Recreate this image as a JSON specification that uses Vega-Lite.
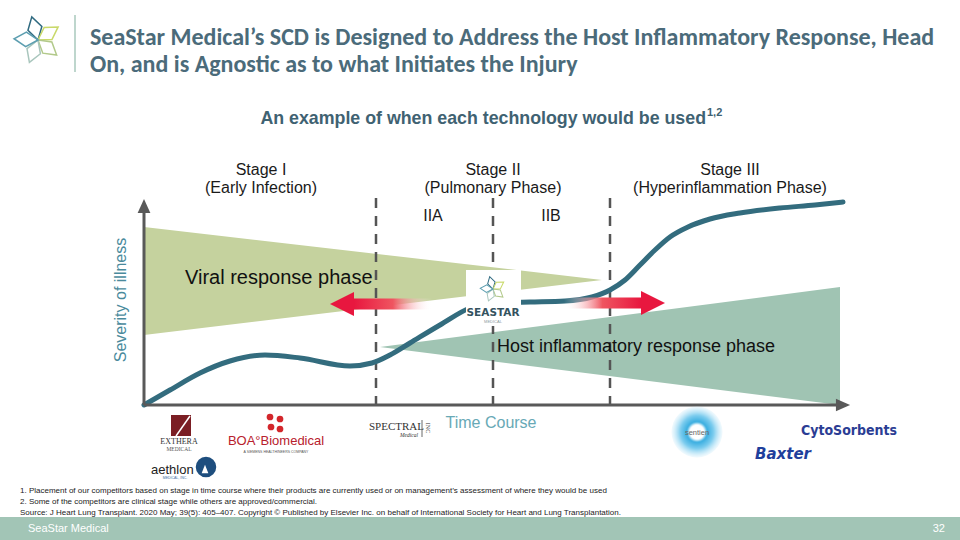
{
  "$schema": "https://vega.github.io/schema/vega-lite/v6.json",
  "width": 960,
  "height": 540,
  "autosize": {"type": "none"},
  "padding": 0,
  "background": "#ffffff",
  "config": {"view": {"stroke": null}, "font": "Liberation Sans"},
  "encoding": {
    "x": {"field": "x", "type": "quantitative", "scale": {"domain": [0, 960], "nice": false, "zero": false}, "axis": null},
    "y": {"field": "y", "type": "quantitative", "scale": {"domain": [0, 540], "nice": false, "zero": false, "reverse": true}, "axis": null}
  },
  "layer": [
    {"data": {"values": [{"x": 0, "x2": 960, "y": 517, "y2": 540}]},
     "mark": {"type": "rect", "color": "#a2c5b6"},
     "encoding": {"x2": {"field": "x2"}, "y2": {"field": "y2"}}},
    {"data": {"values": [{"x": 75, "y": 15, "y2": 72}]},
     "mark": {"type": "rule", "color": "#a8c8bc", "strokeWidth": 1.5},
     "encoding": {"y2": {"field": "y2"}}},
    {"data": {"values": [{"x": 38, "y": 40, "a": -15, "p": "top"}, {"x": 38, "y": 40, "a": 57, "p": "ur"}, {"x": 38, "y": 40, "a": 129, "p": "lr"}, {"x": 38, "y": 40, "a": 201, "p": "bot"}, {"x": 38, "y": 40, "a": 273, "p": "left"}]},
     "mark": {"type": "point", "shape": "M0,0L-0.3,-0.5L0,-1L0.3,-0.5Z", "filled": false, "strokeWidth": 1.5, "size": 2300, "opacity": 1},
     "encoding": {"angle": {"field": "a", "type": "quantitative", "scale": null},
       "color": {"field": "p", "type": "nominal", "legend": null, "scale": {"domain": ["top", "ur", "lr", "bot", "left"], "range": ["#2f6a80", "#c9d96a", "#b2c98a", "#a9c6bd", "#5c9eb0"]}}}},
    {"data": {"values": [{"t": "SeaStar Medical\u2019s SCD is Designed to Address the Host Inflammatory Response, Head", "x": 90, "y": 45}, {"t": "On, and is Agnostic as to what Initiates the Injury", "x": 90, "y": 72}]},
     "mark": {"type": "text", "font": "Carlito, Lato", "fontWeight": "bold", "fontSize": 24, "color": "#4b6b7a", "align": "left", "baseline": "alphabetic"},
     "encoding": {"text": {"field": "t"}}},
    {"data": {"values": [{"t": "An example of when each technology would be used", "x": 706, "y": 124}]},
     "mark": {"type": "text", "fontWeight": "bold", "fontSize": 17.8, "color": "#3f6272", "align": "right", "baseline": "alphabetic"},
     "encoding": {"text": {"field": "t"}}},
    {"data": {"values": [{"t": "1,2", "x": 707, "y": 116}]},
     "mark": {"type": "text", "fontWeight": "bold", "fontSize": 11, "color": "#3f6272", "align": "left", "baseline": "alphabetic"},
     "encoding": {"text": {"field": "t"}}},
    {"data": {"values": [{"t": "Stage I", "x": 261, "y": 170}, {"t": "(Early Infection)", "x": 261, "y": 188}, {"t": "Stage II", "x": 493, "y": 170}, {"t": "(Pulmonary Phase)", "x": 493, "y": 188}, {"t": "Stage III", "x": 730, "y": 170}, {"t": "(Hyperinflammation Phase)", "x": 730, "y": 188}, {"t": "IIA", "x": 433, "y": 216}, {"t": "IIB", "x": 551, "y": 216}]},
     "mark": {"type": "text", "fontSize": 16, "color": "#1a1a1a", "align": "center", "baseline": "middle"},
     "encoding": {"text": {"field": "t"}}},
    {"data": {"values": [{"x": 144, "y": 227, "y2": 335}, {"x": 602, "y": 280, "y2": 280}]},
     "mark": {"type": "area", "color": "#c5d29e", "opacity": 1, "orient": "vertical"},
     "encoding": {"y": {"field": "y", "type": "quantitative", "stack": null}, "y2": {"field": "y2"}}},
    {"data": {"values": [{"x": 380, "y": 347, "y2": 347}, {"x": 840, "y": 287, "y2": 405}]},
     "mark": {"type": "area", "color": "#a0c4b3", "opacity": 1, "orient": "vertical"},
     "encoding": {"y": {"field": "y", "type": "quantitative", "stack": null}, "y2": {"field": "y2"}}},
    {"data": {"values": [{"x": 376, "y": 198, "y2": 405}, {"x": 493, "y": 198, "y2": 405}, {"x": 610, "y": 198, "y2": 405}]},
     "mark": {"type": "rule", "color": "#555555", "strokeWidth": 2.5, "strokeDash": [10, 8]},
     "encoding": {"y2": {"field": "y2"}}},
    {"data": {"values": [
       {"x": 144, "y": 405}, {"x": 170, "y": 390}, {"x": 200, "y": 373}, {"x": 230, "y": 361}, {"x": 265, "y": 355},
       {"x": 300, "y": 358}, {"x": 350, "y": 366}, {"x": 372, "y": 363}, {"x": 390, "y": 355}, {"x": 410, "y": 343},
       {"x": 440, "y": 325}, {"x": 470, "y": 308}, {"x": 495, "y": 303}, {"x": 530, "y": 302}, {"x": 565, "y": 301},
       {"x": 592, "y": 297}, {"x": 610, "y": 290}, {"x": 625, "y": 280}, {"x": 640, "y": 265}, {"x": 655, "y": 250},
       {"x": 670, "y": 237}, {"x": 688, "y": 227}, {"x": 710, "y": 219}, {"x": 740, "y": 213}, {"x": 780, "y": 208},
       {"x": 815, "y": 205}, {"x": 843, "y": 202}]},
     "mark": {"type": "line", "color": "#336c7e", "strokeWidth": 5, "interpolate": "monotone", "strokeCap": "round"}},
    {"data": {"values": [{"x": 144, "y": 212, "y2": 405}, {"x": 144, "y": 405, "x2": 838}]},
     "mark": {"type": "rule", "color": "#595959", "strokeWidth": 3},
     "encoding": {"x2": {"field": "x2"}, "y2": {"field": "y2"}}},
    {"data": {"values": [{"x": 144, "y": 206, "a": 0}, {"x": 843, "y": 405, "a": 90}]},
     "mark": {"type": "point", "shape": "M0,-1L0.9,1L-0.9,1Z", "filled": true, "color": "#595959", "size": 200, "opacity": 1},
     "encoding": {"angle": {"field": "a", "type": "quantitative", "scale": null}}},
    {"data": {"values": [{"x": 354, "x2": 432, "y": 298.5, "y2": 309.5}]},
     "mark": {"type": "rect", "fill": {"gradient": "linear", "x1": 0, "y1": 0, "x2": 1, "y2": 0, "stops": [{"offset": 0, "color": "#e8173f"}, {"offset": 0.5, "color": "#ef5560"}, {"offset": 1, "color": "rgba(255,255,255,0)"}]}},
     "encoding": {"x2": {"field": "x2"}, "y2": {"field": "y2"}}},
    {"data": {"values": [{"x": 564, "x2": 641, "y": 297.5, "y2": 308.5}]},
     "mark": {"type": "rect", "fill": {"gradient": "linear", "x1": 0, "y1": 0, "x2": 1, "y2": 0, "stops": [{"offset": 0, "color": "rgba(255,255,255,0)"}, {"offset": 0.5, "color": "#ef5560"}, {"offset": 1, "color": "#e8173f"}]}},
     "encoding": {"x2": {"field": "x2"}, "y2": {"field": "y2"}}},
    {"data": {"values": [{"x": 342, "y": 304, "a": -90}, {"x": 653, "y": 303, "a": 90}]},
     "mark": {"type": "point", "shape": "M0,-1L1,1L-1,1Z", "filled": true, "color": "#e8173f", "size": 576, "opacity": 1},
     "encoding": {"angle": {"field": "a", "type": "quantitative", "scale": null}}},
    {"data": {"values": [{"x": 466, "x2": 521, "y": 270, "y2": 326}]},
     "mark": {"type": "rect", "color": "#ffffff"},
     "encoding": {"x2": {"field": "x2"}, "y2": {"field": "y2"}}},
    {"data": {"values": [{"x": 493, "y": 289, "a": -15, "p": "top"}, {"x": 493, "y": 289, "a": 57, "p": "ur"}, {"x": 493, "y": 289, "a": 129, "p": "lr"}, {"x": 493, "y": 289, "a": 201, "p": "bot"}, {"x": 493, "y": 289, "a": 273, "p": "left"}]},
     "mark": {"type": "point", "shape": "M0,0L-0.3,-0.5L0,-1L0.3,-0.5Z", "filled": false, "strokeWidth": 1, "size": 650, "opacity": 1},
     "encoding": {"angle": {"field": "a", "type": "quantitative", "scale": null},
       "color": {"field": "p", "type": "nominal", "legend": null, "scale": {"domain": ["top", "ur", "lr", "bot", "left"], "range": ["#2f6a80", "#c9d96a", "#b2c98a", "#a9c6bd", "#5c9eb0"]}}}},
    {"data": {"values": [{"t": "SEASTAR", "x": 493, "y": 313}]},
     "mark": {"type": "text", "font": "DejaVu Sans", "fontWeight": "bold", "fontSize": 10.5, "color": "#34535f", "align": "center", "baseline": "middle"},
     "encoding": {"text": {"field": "t"}}},
    {"data": {"values": [{"t": "MEDICAL", "x": 493, "y": 322}]},
     "mark": {"type": "text", "fontSize": 4, "letterSpacing": 1.5, "color": "#8a9aa0", "align": "center", "baseline": "middle"},
     "encoding": {"text": {"field": "t"}}},
    {"data": {"values": [{"t": "Viral response phase", "x": 185, "y": 278}]},
     "mark": {"type": "text", "fontSize": 20, "color": "#111111", "align": "left", "baseline": "middle"},
     "encoding": {"text": {"field": "t"}}},
    {"data": {"values": [{"t": "Host inflammatory response phase", "x": 497, "y": 347}]},
     "mark": {"type": "text", "fontSize": 18, "color": "#111111", "align": "left", "baseline": "middle"},
     "encoding": {"text": {"field": "t"}}},
    {"data": {"values": [{"t": "Severity of illness", "x": 121, "y": 300}]},
     "mark": {"type": "text", "fontSize": 16, "color": "#4a8a9c", "align": "center", "baseline": "middle", "angle": 270},
     "encoding": {"text": {"field": "t"}}},
    {"data": {"values": [{"t": "Time Course", "x": 491, "y": 423}]},
     "mark": {"type": "text", "fontSize": 16, "color": "#68a9b6", "align": "center", "baseline": "middle"},
     "encoding": {"text": {"field": "t"}}},
    {"data": {"values": [{"x": 171, "x2": 191, "y": 415, "y2": 436}]},
     "mark": {"type": "rect", "color": "#7b1e24"},
     "encoding": {"x2": {"field": "x2"}, "y2": {"field": "y2"}}},
    {"data": {"values": [{"x": 176, "y": 436, "x2": 190, "y2": 416}]},
     "mark": {"type": "rule", "color": "#ffffff", "strokeWidth": 1.5},
     "encoding": {"x2": {"field": "x2"}, "y2": {"field": "y2"}}},
    {"data": {"values": [{"t": "EXTHERA", "x": 179, "y": 442}]},
     "mark": {"type": "text", "font": "Liberation Serif", "fontSize": 8, "color": "#333333", "align": "center", "baseline": "middle"},
     "encoding": {"text": {"field": "t"}}},
    {"data": {"values": [{"t": "MEDICAL", "x": 179, "y": 449}]},
     "mark": {"type": "text", "font": "Liberation Serif", "fontSize": 5.5, "color": "#555555", "align": "center", "baseline": "middle"},
     "encoding": {"text": {"field": "t"}}},
    {"data": {"values": [{"x": 270, "y": 417}, {"x": 280, "y": 419}, {"x": 271, "y": 427}, {"x": 280, "y": 429}]},
     "mark": {"type": "circle", "color": "#d3262b", "size": 45, "opacity": 1}},
    {"data": {"values": [{"t": "BOA\u00b0Biomedical", "x": 276, "y": 441}]},
     "mark": {"type": "text", "fontSize": 13, "color": "#b8202c", "align": "center", "baseline": "middle"},
     "encoding": {"text": {"field": "t"}}},
    {"data": {"values": [{"t": "A SIEMENS HEALTHINEERS COMPANY", "x": 276, "y": 452}]},
     "mark": {"type": "text", "fontSize": 3.5, "color": "#555555", "align": "center", "baseline": "middle"},
     "encoding": {"text": {"field": "t"}}},
    {"data": {"values": [{"t": "aethlon", "x": 151, "y": 470}]},
     "mark": {"type": "text", "fontSize": 13, "color": "#222222", "align": "left", "baseline": "middle"},
     "encoding": {"text": {"field": "t"}}},
    {"data": {"values": [{"x": 206, "y": 467}]},
     "mark": {"type": "circle", "color": "#1e4e7e", "size": 420, "opacity": 1}},
    {"data": {"values": [{"x": 205, "y": 469}]},
     "mark": {"type": "point", "shape": "M0,-1L0.8,1L-0.8,1Z", "filled": true, "color": "#ffffff", "size": 70, "opacity": 1}},
    {"data": {"values": [{"t": "MEDICAL, INC.", "x": 175, "y": 478}]},
     "mark": {"type": "text", "fontSize": 3.5, "color": "#3a6ea5", "align": "center", "baseline": "middle"},
     "encoding": {"text": {"field": "t"}}},
    {"data": {"values": [{"t": "SPECTRAL", "x": 369, "y": 427}]},
     "mark": {"type": "text", "font": "Liberation Serif", "fontSize": 11, "color": "#333333", "align": "left", "baseline": "middle"},
     "encoding": {"text": {"field": "t"}}},
    {"data": {"values": [{"t": "Medical", "x": 418, "y": 435}]},
     "mark": {"type": "text", "font": "Liberation Serif", "fontStyle": "italic", "fontSize": 5.5, "color": "#333333", "align": "right", "baseline": "middle"},
     "encoding": {"text": {"field": "t"}}},
    {"data": {"values": [{"x": 422, "y": 420, "y2": 437}]},
     "mark": {"type": "rule", "color": "#444444", "strokeWidth": 0.8},
     "encoding": {"y2": {"field": "y2"}}},
    {"data": {"values": [{"t": "INC", "x": 428, "y": 428}]},
     "mark": {"type": "text", "font": "Liberation Serif", "fontSize": 6, "color": "#333333", "align": "center", "baseline": "middle", "angle": 90},
     "encoding": {"text": {"field": "t"}}},
    {"data": {"values": [{"x": 697, "y": 432}]},
     "mark": {"type": "circle", "size": 2600, "opacity": 1, "fill": {"gradient": "radial", "stops": [{"offset": 0, "color": "#ffffff"}, {"offset": 0.28, "color": "#ffffff"}, {"offset": 0.4, "color": "#3aaee0"}, {"offset": 0.65, "color": "#7cccee"}, {"offset": 1, "color": "rgba(190,230,248,0.2)"}]}}},
    {"data": {"values": [{"t": "sentien", "x": 697, "y": 433}]},
     "mark": {"type": "text", "fontSize": 7.5, "color": "#666666", "align": "center", "baseline": "middle"},
     "encoding": {"text": {"field": "t"}}},
    {"data": {"values": [{"t": "CytoSorbents", "x": 849, "y": 431}]},
     "mark": {"type": "text", "font": "DejaVu Sans Condensed, Roboto", "fontWeight": 900, "fontSize": 14, "letterSpacing": -0.9, "color": "#2b3d94", "align": "center", "baseline": "middle"},
     "encoding": {"text": {"field": "t"}}},
    {"data": {"values": [{"t": "Baxter", "x": 783, "y": 454}]},
     "mark": {"type": "text", "font": "DejaVu Sans", "fontWeight": "bold", "fontStyle": "italic", "fontSize": 15, "color": "#1f3f9c", "align": "center", "baseline": "middle"},
     "encoding": {"text": {"field": "t"}}},
    {"data": {"values": [
       {"t": "1. Placement of our competitors based on stage in time course where their products are currently used or on management\u2019s assessment of where they would be used", "x": 20, "y": 491},
       {"t": "2. Some of the competitors are clinical stage while others are approved/commercial.", "x": 20, "y": 502},
       {"t": "Source: J Heart Lung Transplant. 2020 May; 39(5): 405\u2013407. Copyright \u00a9 Published by Elsevier Inc. on behalf of International Society for Heart and Lung Transplantation.", "x": 20, "y": 513}]},
     "mark": {"type": "text", "fontSize": 8, "color": "#222222", "align": "left", "baseline": "middle"},
     "encoding": {"text": {"field": "t"}}},
    {"data": {"values": [{"t": "SeaStar Medical", "x": 28, "y": 529}]},
     "mark": {"type": "text", "fontSize": 11, "color": "#ffffff", "align": "left", "baseline": "middle"},
     "encoding": {"text": {"field": "t"}}},
    {"data": {"values": [{"t": "32", "x": 945, "y": 529}]},
     "mark": {"type": "text", "fontSize": 11, "color": "#ffffff", "align": "right", "baseline": "middle"},
     "encoding": {"text": {"field": "t"}}}
  ]
}
